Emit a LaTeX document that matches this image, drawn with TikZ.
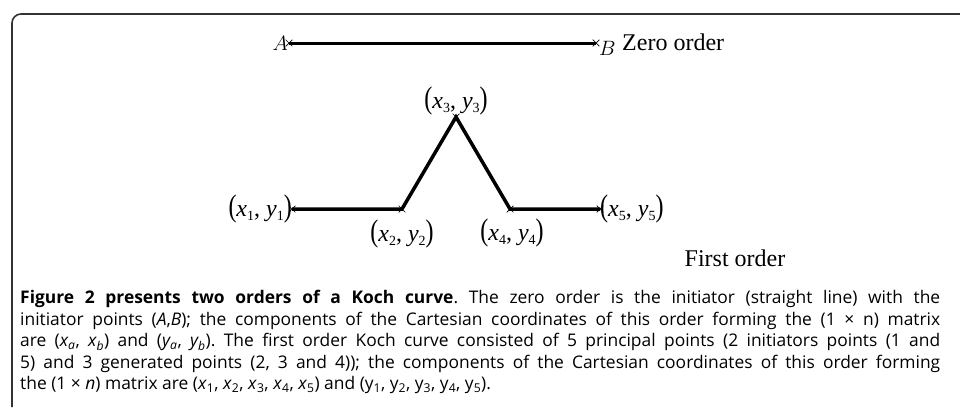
\documentclass[tikz,border=0pt]{standalone}
\usepackage{fontspec}
\usepackage{graphicx}
\setmainfont{Open Sans}
\newfontfamily\tms{Liberation Serif}
\usetikzlibrary{shapes.misc}
\newcommand{\bigpar}[1]{\scalebox{1}[1.3]{#1}}
\newcommand{\subd}[1]{\raisebox{-0.4ex}{\fontsize{14}{14}\selectfont #1}}
\newcommand{\kpt}[1]{{\tms\fontsize{24}{24}\selectfont\bigpar{(}\textit{x}\subd{#1}, \textit{y}\subd{#1}\bigpar{)}}}
\definecolor{framec}{HTML}{333333}
\tikzset{
  vx/.style={cross out, draw=black, line width=0.7pt, minimum size=6pt, inner sep=0pt},
  curve/.style={line width=3.5pt, line cap=butt},
  lbl/.style={inner sep=0pt, font=\tms\fontsize{24}{24}\selectfont},
  ablbl/.style={inner sep=0pt, font=\fontsize{20}{20}\selectfont},
  captext/.style={inner sep=0pt, anchor=north west, text width=920pt, align=justify,
    font=\fontsize{17.4}{21.6}\selectfont}
}
\begin{document}
\begin{tikzpicture}[x=1pt,y=-1pt]
\useasboundingbox (0,0) rectangle (960,407);
\fill[white] (0,0) rectangle (960,407);
% frame
\draw[framec, line width=1.6pt, rounded corners=9pt] (12,407) -- (12,14) -- (961,14);
% zero order
\node[vx] (pA) at (289,43) {};
\node[vx] (pB) at (596,43) {};
\draw[line width=3pt] (pA.center) -- (pB.center);
\node[ablbl, anchor=east, xshift=-1pt] (lA) at (pA.center) {$A$};
\node[ablbl, anchor=west, xshift=3pt, yshift=-5pt] (lB) at (pB.center) {$B$};
\node[lbl, anchor=west] (zo) at (622,42) {Zero order};
% first order
\node[vx] (p1) at (292,209) {};
\node[vx] (p2) at (402,209) {};
\node[vx] (p3) at (456,117) {};
\node[vx] (p4) at (510,209) {};
\node[vx] (p5) at (600,209) {};
\draw[curve, line join=miter] (p1.center) -- (p2.center) -- (p3.center) -- (p4.center) -- (p5.center);
\node[lbl, anchor=east] (l1) at (p1.center) {\kpt{1}};
\node[lbl] (l2) at (402,234) {\kpt{2}};
\node[lbl, anchor=south] (l3) at (456,115) {\kpt{3}};
\node[lbl] (l4) at (512,233) {\kpt{4}};
\node[lbl, anchor=west] (l5) at (p5.center) {\kpt{5}};
\node[lbl] (fo) at (735,258) {First order};
% caption
\node[captext] (caption) at (20,290) {\frenchspacing\spaceskip=0.26em plus 1em minus 0.05em\relax
\textbf{Figure 2 presents two orders of a Koch curve}. The zero order is the initiator (straight line) with the\linebreak
initiator points (\textit{A},\textit{B}); the components of the Cartesian coordinates of this order forming the (1 × n) matrix\linebreak
are (\textit{x\textsubscript{a}}, \textit{x\textsubscript{b}}) and (\textit{y\textsubscript{a}}, \textit{y\textsubscript{b}}). The first order Koch curve consisted of 5 principal points (2 initiators points (1 and\linebreak
5) and 3 generated points (2, 3 and 4)); the components of the Cartesian coordinates of this order forming\linebreak
the (1 × \textit{n}) matrix are (\textit{x}\textsubscript{1}, \textit{x}\textsubscript{2}, \textit{x}\textsubscript{3}, \textit{x}\textsubscript{4}, \textit{x}\textsubscript{5}) and (y\textsubscript{1}, y\textsubscript{2}, y\textsubscript{3}, y\textsubscript{4}, y\textsubscript{5}).};
\end{tikzpicture}
\end{document}
